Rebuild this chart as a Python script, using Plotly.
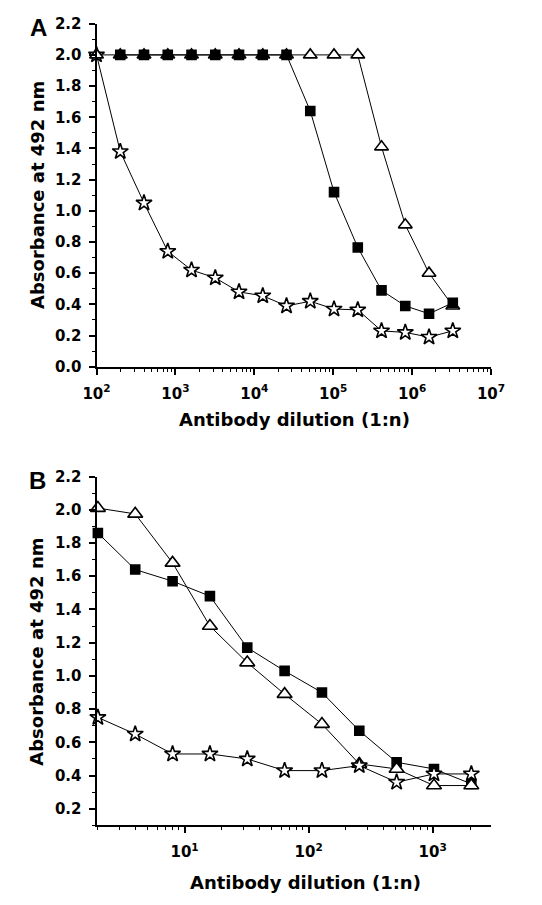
import plotly.graph_objects as go
import numpy as np

# Panel A data (two-fold dilutions starting at 1:100)
dil_a = [100, 200, 400, 800, 1600, 3200, 6400, 12800, 25600, 51200,
         102400, 204800, 409600, 819200, 1638400, 3276800]
a_square = [None, 2.0, 2.0, 2.0, 2.0, 2.0, 2.0, 2.0, 2.0, 1.64,
            1.12, 0.765, 0.49, 0.39, 0.34, 0.41]
a_triangle = [2.0, 2.0, 2.0, 2.0, 2.0, 2.0, 2.0, 2.0, 2.0, 2.0,
              2.0, 2.0, 1.41, 0.91, 0.60, 0.39]
a_star = [2.0, 1.38, 1.05, 0.74, 0.62, 0.57, 0.48, 0.455, 0.39, 0.42,
          0.37, 0.365, 0.23, 0.22, 0.19, 0.23]

# Panel B data (two-fold dilutions starting at 1:2)
dil_b = [2, 4, 8, 16, 32, 64, 128, 256, 512, 1024, 2048]
b_square = [1.86, 1.64, 1.57, 1.48, 1.17, 1.03, 0.90, 0.67, 0.48, 0.44, 0.35]
b_triangle = [2.01, 1.975, 1.68, 1.30, 1.08, 0.89, 0.71, 0.47, 0.44, 0.34, 0.34]
b_star = [0.75, 0.65, 0.53, 0.53, 0.50, 0.43, 0.43, 0.46, 0.36, 0.41, 0.41]

y_ticks = [0.0, 0.2, 0.4, 0.6, 0.8, 1.0, 1.2, 1.4, 1.6, 1.8, 2.0, 2.2]
y_ticks_b = [0.2, 0.4, 0.6, 0.8, 1.0, 1.2, 1.4, 1.6, 1.8, 2.0, 2.2]
x_ticks_a = [1e2, 1e3, 1e4, 1e5, 1e6, 1e7]
x_ticks_b = [1e1, 1e2, 1e3]

x_title = "Antibody dilution (1:n)"
y_title = "Absorbance at 492 nm"

W, H = 542, 905
TICKFAM = "DejaVu Sans, sans-serif"
LETTERFAM = "Liberation Sans, Arial, sans-serif"

fig = go.Figure()

def add_series(x, y, xa, ya, symbol, size, fill):
    fig.add_trace(go.Scatter(
        x=x, y=y, mode="lines+markers", xaxis=xa, yaxis=ya,
        line=dict(color="black", width=1),
        marker=dict(symbol=symbol, size=size,
                    color="black" if fill else "white",
                    line=dict(color="black", width=1.6)),
        showlegend=False, cliponaxis=False, connectgaps=False))

# Panel A
add_series(dil_a, a_star, "x", "y", "star", 12, False)
add_series(dil_a, a_triangle, "x", "y", "triangle-up", 12, False)
add_series(dil_a, a_square, "x", "y", "square", 9, True)
# Panel B
add_series(dil_b, b_square, "x2", "y2", "square", 9, True)
add_series(dil_b, b_triangle, "x2", "y2", "triangle-up", 13, False)
add_series(dil_b, b_star, "x2", "y2", "star", 12, False)

xdom = [87 / W, 503 / W]
ydom_a = [1 - 365 / H, 1 - 15 / H]
ydom_b = [1 - 833 / H, 1 - 477 / H]

tickfont = dict(family=TICKFAM, size=15, color="black", weight="bold")
titlefont = dict(family=TICKFAM, size=18, color="black", weight="bold")

def sup(v):
    e = int(round(np.log10(v)))
    return f"10<sup>{e}</sup>"

def xaxis(dom, rng, anchor, ticks):
    return dict(domain=dom, type="log", range=rng, anchor=anchor,
                showline=True, linecolor="black", linewidth=2,
                ticks="outside", ticklen=6, tickwidth=1.5, tickcolor="black",
                tickvals=ticks, ticktext=[sup(v) for v in ticks],
                showgrid=False, zeroline=False, ticklabelstandoff=6,
                minor=dict(ticks="outside", ticklen=3, tickwidth=1, tickcolor="black", dtick="D1"),
                tickfont=tickfont)

def yaxis(dom, rng, anchor, ticks):
    return dict(domain=dom, range=rng, anchor=anchor,
                showline=True, linecolor="black", linewidth=2,
                ticks="outside", ticklen=6, tickwidth=1.5, tickcolor="black",
                tickvals=ticks, ticktext=[f"{v:.1f}" for v in ticks],
                showgrid=False, zeroline=False, ticklabelstandoff=4,
                minor=dict(ticks="outside", ticklen=3, tickwidth=1, tickcolor="black", dtick=0.1),
                tickfont=tickfont)

def ann(text, px, py, font, angle=0):
    return dict(text=text, x=px / W, y=1 - py / H, xref="paper", yref="paper",
                xanchor="center", yanchor="middle", showarrow=False,
                textangle=angle, font=font)

letterfont = dict(family=LETTERFAM, size=24, color="black", weight="bold")

fig.update_layout(
    width=W, height=H,
    margin=dict(l=0, r=0, t=0, b=0),
    paper_bgcolor="white", plot_bgcolor="white",
    xaxis=xaxis(xdom, [2, 7], "y", x_ticks_a),
    yaxis=yaxis(ydom_a, [0, 2.2], "x", y_ticks),
    xaxis2=xaxis(xdom, [0.29, 3.47], "y2", x_ticks_b),
    yaxis2=yaxis(ydom_b, [0.1, 2.2], "x2", y_ticks_b),
    annotations=[
        ann("A", 26, 19, letterfont),
        ann("B", 25, 481, letterfont),
        ann(y_title, 24, 190, titlefont, -90),
        ann(y_title, 24, 656, titlefont, -90),
        ann(x_title, 296, 419, titlefont),
        ann(x_title, 307, 891, titlefont),
    ],
)

fig.write_html("out.html", post_script="document.body.style.margin='0';")
